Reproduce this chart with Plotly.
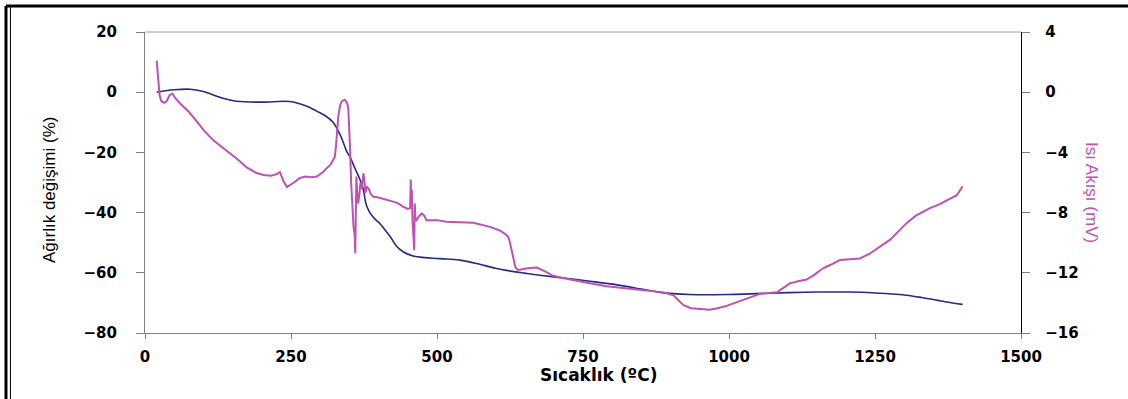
import plotly.graph_objects as go

# Weight change (%) vs temperature
t_weight = [20, 50, 77, 100, 130, 157, 200, 248, 275, 294, 310, 322, 335, 345, 351, 360, 368, 374,
            379, 385, 393, 402, 410, 420, 430, 442, 459, 471, 505, 539, 570, 600, 619, 650, 676, 720,
            762, 808, 850, 882, 933, 1000, 1036, 1100, 1150, 1207, 1250, 1293, 1330, 1370, 1400]
weight = [0, 0.8, 1.0, 0.2, -1.8, -3.0, -3.3, -3.1, -4.5, -6.3, -8.0, -10, -14.5, -19.5, -21.5, -25.5,
          -29, -32.5, -37.5, -40, -42, -43.6, -45.5, -48, -51, -53, -54.4, -54.8, -55.3, -55.8, -57,
          -58.5, -59.2, -60.1, -60.8, -61.8, -62.8, -64, -65.4, -66.5, -67.2, -67.2, -67, -66.6, -66.4,
          -66.4, -66.7, -67.2, -68.2, -69.6, -70.5]

# Heat flow (mV) vs temperature
t_heat = [20, 22, 25, 28, 33, 37, 42, 47, 52, 60, 75, 88, 100, 117, 130, 146, 160, 174, 190, 203, 215,
          225, 231, 237, 243, 255, 265, 275, 285, 294, 305, 311, 317, 322, 325, 327, 329, 331, 334, 337,
          342, 346, 348, 350, 351, 353, 355, 357, 359, 360, 361, 362, 363, 365, 367, 369, 371, 373, 374,
          376, 377, 380, 383, 387, 391, 400, 420, 432, 442, 450, 454, 455, 456, 457, 458, 459, 461, 462,
          463, 465, 468, 474, 478, 482, 500, 516, 562, 591, 608, 618, 622, 625, 628, 631, 634, 638, 642,
          655, 671, 685, 699, 715, 733, 762, 790, 815, 836, 860, 888, 905, 915, 922, 935, 950, 967, 980,
          996, 1010, 1024, 1040, 1053, 1068, 1082, 1095, 1104, 1120, 1133, 1147, 1161, 1175, 1190, 1207,
          1224, 1240, 1253, 1265, 1276, 1290, 1304, 1320, 1344, 1360, 1373, 1385, 1390, 1396, 1400]
heat = [2.1, 1.0, -0.2, -0.6, -0.7, -0.6, -0.2, -0.1, -0.4, -0.75, -1.3, -1.9, -2.5, -3.2, -3.6, -4.1,
        -4.5, -5.0, -5.35, -5.5, -5.55, -5.45, -5.3, -5.9, -6.3, -6.0, -5.7, -5.6, -5.65, -5.6, -5.3,
        -5.05, -4.85, -4.5, -4.3, -3.6, -2.5, -1.6, -0.9, -0.6, -0.5, -0.7, -1.0, -2.5, -3.6, -6, -8,
        -8.9, -9.5, -10.7, -8, -5.6, -6.5, -7.4, -6.8, -6.0, -6.4, -5.8, -5.4, -6.0, -6.7, -6.3, -6.4,
        -6.8, -6.95, -7.0, -7.2, -7.35, -7.6, -7.75, -7.7, -5.8, -7.2, -6.5, -8.5, -9.6, -10.5, -7.4,
        -8.4, -8.5, -8.3, -8.05, -8.2, -8.5, -8.5, -8.6, -8.68, -8.95, -9.2, -9.45, -9.6, -10.0, -10.5,
        -11.1, -11.6, -11.8, -11.8, -11.7, -11.65, -11.9, -12.2, -12.35, -12.5, -12.7, -12.9, -13.0,
        -13.05, -13.15, -13.3, -13.5, -13.9, -14.15, -14.35, -14.4, -14.45, -14.35, -14.2, -14.0, -13.8,
        -13.55, -13.4, -13.35, -13.3, -12.95, -12.7, -12.55, -12.45, -12.1, -11.7, -11.45, -11.15,
        -11.1, -11.05, -10.75, -10.4, -10.1, -9.8, -9.25, -8.7, -8.2, -7.7, -7.45, -7.2, -6.95, -6.84,
        -6.5, -6.25]

x_ticks = [0, 250, 500, 750, 1000, 1250, 1500]
y_ticks = [-80, -60, -40, -20, 0, 20]
y2_ticks = [-16, -12, -8, -4, 0, 4]

x_title = "Sıcaklık (ºC)"
y_title = "Ağırlık değişimi (%)"
y2_title = "Isı Akışı (mV)"

BLUE = "#262a88"
MAGENTA = "#c051b3"
tick_font = dict(family="DejaVu Sans", size=15, color="black", weight="bold")

fig = go.Figure()
fig.add_trace(go.Scatter(x=t_weight, y=weight, mode="lines", line=dict(color=BLUE, width=1.6),
                         line_shape="spline", showlegend=False))
fig.add_trace(go.Scatter(x=t_heat, y=heat, mode="lines", yaxis="y2",
                         line=dict(color=MAGENTA, width=2), showlegend=False))

fig.update_layout(
    width=1128, height=399,
    margin=dict(l=145, r=107, t=32, b=66),
    paper_bgcolor="white", plot_bgcolor="white",
    xaxis=dict(range=[0, 1500], tickvals=x_ticks, ticks="outside", ticklen=5, tickcolor="#808080",
               showline=True, linecolor="#808080", linewidth=1, showgrid=False, zeroline=False,
               tickfont=tick_font, ticklabelstandoff=5),
    yaxis=dict(range=[-80, 20], tickvals=y_ticks, ticks="outside", ticklen=8, tickcolor="#808080",
               showline=True, linecolor="#808080", linewidth=1, showgrid=False, zeroline=False,
               tickfont=tick_font, ticklabelstandoff=16),
    yaxis2=dict(range=[-16, 4], tickvals=y2_ticks, overlaying="y", side="right", ticks="outside",
                ticklen=8, tickcolor="#808080", showline=True, linecolor="black", linewidth=1.3,
                showgrid=False, zeroline=False, tickfont=tick_font, ticklabelstandoff=12),
)

# plot top border
fig.add_shape(type="line", xref="paper", yref="paper", x0=0, x1=1, y0=1, y1=1,
              line=dict(color="#a0a0a0", width=1))
# outer frame (double line on left, thick line on top)
fig.add_shape(type="line", xref="paper", yref="paper", x0=-0.1587, x1=1.125, y0=1.0864, y1=1.0864,
              line=dict(color="black", width=3))
fig.add_shape(type="line", xref="paper", yref="paper", x0=-0.1587, x1=-0.1587, y0=1.0864, y1=-0.25,
              line=dict(color="black", width=3))
fig.add_shape(type="line", xref="paper", yref="paper", x0=-0.1536, x1=-0.1536, y0=1.0864, y1=-0.25,
              line=dict(color="black", width=1))

fig.add_annotation(text=x_title, xref="paper", yref="paper", x=0.518, y=-0.1395, showarrow=False,
                   xanchor="center", yanchor="middle",
                   font=dict(family="DejaVu Sans", size=17, color="black", weight="bold"))
fig.add_annotation(text=y_title, xref="paper", yref="paper", x=-0.1096, y=0.475, showarrow=False,
                   xanchor="center", yanchor="middle", textangle=-90,
                   font=dict(family="Liberation Sans Narrow, Liberation Sans", size=17, color="black"))
fig.add_annotation(text=y2_title, xref="paper", yref="paper", x=1.081, y=0.465, showarrow=False,
                   xanchor="center", yanchor="middle", textangle=90,
                   font=dict(family="Liberation Sans Narrow, Liberation Sans", size=17, color=MAGENTA))

fig.write_html("out.html")
